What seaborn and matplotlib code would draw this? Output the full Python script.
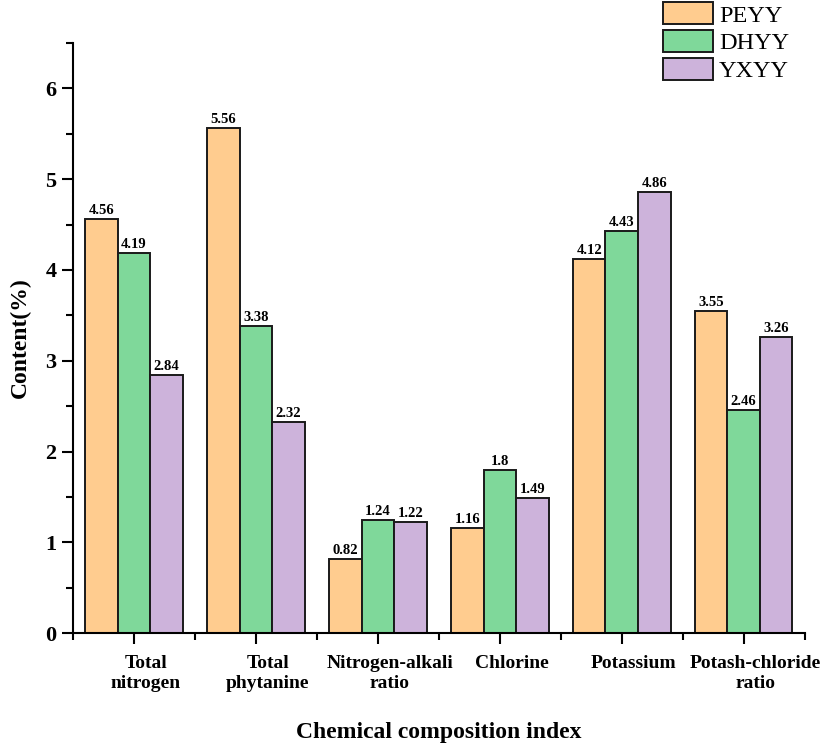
import matplotlib
matplotlib.use('Agg')
import matplotlib.pyplot as plt
import matplotlib.transforms as mtransforms
from matplotlib.ticker import MultipleLocator, FixedLocator
import pandas as pd
import seaborn as sns

# Data
categories = ['Total\nnitrogen', 'Total\nphytanine', 'Nitrogen-alkali\nratio',
              'Chlorine', 'Potassium', 'Potash-chloride\nratio']
groups = ['PEYY', 'DHYY', 'YXYY']
peyy = [4.56, 5.56, 0.82, 1.16, 4.12, 3.55]
dhyy = [4.19, 3.38, 1.24, 1.80, 4.43, 2.46]
yxyy = [2.84, 2.32, 1.22, 1.49, 4.86, 3.26]
colors = ['#FFCC8F', '#7FD89A', '#CDB3DB']

df = pd.DataFrame({
    'index': categories * 3,
    'group': [g for g in groups for _ in categories],
    'value': peyy + dhyy + yxyy,
})

sns.set_style('ticks')
plt.rcParams['font.family'] = ['Liberation Serif', 'DejaVu Serif']
plt.rcParams['font.weight'] = 'bold'
plt.rcParams['text.color'] = 'black'
plt.rcParams['axes.labelcolor'] = 'black'
plt.rcParams['xtick.color'] = 'black'
plt.rcParams['ytick.color'] = 'black'
plt.rcParams['axes.edgecolor'] = 'black'

fig = plt.figure(figsize=(8.23, 7.43), dpi=100)
ax = fig.add_axes([0.0887, 0.148, 0.889, 0.794])

sns.barplot(data=df, x='index', y='value', hue='group', palette=colors,
            width=0.8, saturation=1, edgecolor='#1a1a1a', linewidth=1.4,
            errorbar=None, ax=ax)

for cont in ax.containers:
    labels = [f'{v:g}' for v in cont.datavalues]
    ax.bar_label(cont, labels=labels, padding=1.5, fontsize=10.5,
                 fontweight='bold', color='black')

ax.set_xlim(-0.5, 5.5)
ax.set_ylim(0, 6.5)
ax.yaxis.set_major_locator(MultipleLocator(1))
ax.yaxis.set_minor_locator(MultipleLocator(0.5))
ax.xaxis.set_minor_locator(FixedLocator([i - 0.5 for i in range(7)]))

sns.despine(ax=ax)
for s in ['left', 'bottom']:
    ax.spines[s].set_linewidth(1.5)
ax.tick_params(axis='both', which='major', length=8, width=1.5, direction='out')
ax.tick_params(axis='both', which='minor', length=5, width=1.5, direction='out')
ax.tick_params(axis='y', labelsize=16, pad=4)
ax.tick_params(axis='x', labelsize=14, pad=8)
for lab in ax.get_yticklabels():
    lab.set_fontweight('bold')
offset = mtransforms.ScaledTranslation(0.12, 0, fig.dpi_scale_trans)
for lab in ax.get_xticklabels():
    lab.set_fontweight('bold')
    lab.set_transform(lab.get_transform() + offset)

ax.set_xlabel('Chemical composition index', fontsize=17, fontweight='bold', labelpad=22)
ax.set_ylabel('Content(%)', fontsize=17, fontweight='bold', labelpad=10)

handles, lbls = ax.get_legend_handles_labels()
ax.legend(handles, lbls, loc='upper right', bbox_to_anchor=(0.962, 1.0),
          bbox_transform=fig.transFigure, frameon=False,
          prop={'family': 'Liberation Serif', 'weight': 'normal', 'size': 17.5},
          handlelength=2.05, handleheight=1.0, labelspacing=0.15,
          handletextpad=0.25, borderaxespad=0.0, borderpad=0.1)

fig.savefig('out.png', dpi=100)
